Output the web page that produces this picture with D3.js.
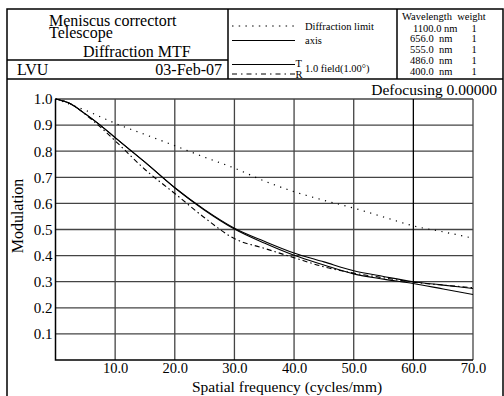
<!DOCTYPE html>
<html><head><meta charset="utf-8">
<script src="https://cdn.jsdelivr.net/npm/d3@7"></script>
<style>body{margin:0;background:#fff}svg{display:block}text{font-family:"Liberation Serif","Times New Roman",serif;fill:#000}</style>
</head><body>
<svg id="c" width="504" height="396"></svg>
<script>
const freq = [0, 2.5, 5, 7.5, 10, 15, 20, 25, 30, 35, 40, 45, 50, 55, 60, 65, 70];
const diffraction = [1.0, 0.979, 0.957, 0.932, 0.907, 0.864, 0.821, 0.777, 0.735, 0.686, 0.645, 0.612, 0.582, 0.548, 0.514, 0.491, 0.467];
const axisMTF = [1.0, 0.982, 0.943, 0.900, 0.852, 0.758, 0.660, 0.576, 0.505, 0.455, 0.410, 0.376, 0.342, 0.320, 0.300, 0.287, 0.274];
const tanMTF  = [1.0, 0.982, 0.943, 0.900, 0.852, 0.758, 0.660, 0.574, 0.502, 0.448, 0.401, 0.364, 0.330, 0.310, 0.293, 0.272, 0.251];
const sagMTF  = [1.0, 0.982, 0.941, 0.893, 0.840, 0.730, 0.638, 0.545, 0.465, 0.428, 0.392, 0.357, 0.333, 0.315, 0.298, 0.287, 0.277];
const xTicks = [10, 20, 30, 40, 50, 60, 70];
const yTicks = [0.1, 0.2, 0.3, 0.4, 0.5, 0.6, 0.7, 0.8, 0.9, 1.0];
const wavelengths = ["1100.0 nm", "656.0  nm", "555.0  nm", "486.0  nm", "400.0  nm"];
const weights = [1, 1, 1, 1, 1];

const svg = d3.select("#c");
const x = d3.scaleLinear().domain([0, 70]).range([55.5, 473]);
const y = d3.scaleLinear().domain([0, 1]).range([360, 99]);

// frame
const frame = svg.append("g").attr("fill", "none").attr("stroke", "#000").attr("stroke-width", 1.5);
frame.append("path").attr("d", "M7,400 V9 H503 V400");
frame.append("line").attr("x1", 7).attr("x2", 503).attr("y1", 79).attr("y2", 79);
frame.append("line").attr("x1", 7).attr("x2", 228).attr("y1", 60).attr("y2", 60);
frame.append("line").attr("x1", 228).attr("x2", 228).attr("y1", 9).attr("y2", 79);
frame.append("line").attr("x1", 397).attr("x2", 397).attr("y1", 9).attr("y2", 79);

// header text
svg.append("text").attr("x", 49).attr("y", 25.5).style("font-size", "16px").text("Meniscus correctort");
svg.append("text").attr("x", 49).attr("y", 37.5).style("font-size", "16px").text("Telescope");
svg.append("text").attr("x", 83).attr("y", 56.5).style("font-size", "16px").text("Diffraction MTF");
svg.append("text").attr("x", 17).attr("y", 74.5).style("font-size", "16px").text("LVU");
svg.append("text").attr("x", 222).attr("y", 74.5).attr("text-anchor", "end").style("font-size", "16px").text("03-Feb-07");

// legend
const lg = svg.append("g").attr("stroke", "#000").attr("fill", "none");
lg.append("line").attr("x1", 232).attr("x2", 295).attr("y1", 26).attr("y2", 26).attr("stroke-dasharray", "1.5,5.2").attr("stroke-width", 1);
lg.append("line").attr("x1", 232).attr("x2", 295).attr("y1", 40.5).attr("y2", 40.5).attr("stroke-width", 1);
lg.append("line").attr("x1", 232).attr("x2", 295).attr("y1", 64.5).attr("y2", 64.5).attr("stroke-width", 1);
lg.append("line").attr("x1", 232).attr("x2", 295).attr("y1", 74).attr("y2", 74).attr("stroke-dasharray", "5,4,1.5,4").attr("stroke-width", 1);
svg.append("text").attr("x", 305).attr("y", 29.5).style("font-size", "10.5px").text("Diffraction limit");
svg.append("text").attr("x", 305).attr("y", 43.5).style("font-size", "10.5px").text("axis");
svg.append("text").attr("x", 295.5).attr("y", 67).style("font-size", "10.5px").text("T");
svg.append("text").attr("x", 295.5).attr("y", 77.5).style("font-size", "10.5px").text("R");
svg.append("text").attr("x", 305).attr("y", 72).style("font-size", "10.5px").text("1.0 field(1.00°)");

svg.append("text").attr("x", 402).attr("y", 19.5).style("font-size", "10.5px").style("white-space", "pre").text("Wavelength  weight");
wavelengths.forEach((w, i) => {
  svg.append("text").attr("x", i === 0 ? 413 : 410).attr("y", 31.5 + i * 10.8).style("font-size", "10.5px").style("white-space", "pre").text(w);
  svg.append("text").attr("x", 474).attr("y", 31.5 + i * 10.8).attr("text-anchor", "middle").style("font-size", "10.5px").text(weights[i]);
});

svg.append("text").attr("x", 497).attr("y", 95).attr("text-anchor", "end").style("font-size", "15.5px").text("Defocusing 0.00000");

// grid
const grid = svg.append("g").attr("stroke", "#444").attr("stroke-width", 1.3);
yTicks.forEach(t => grid.append("line").attr("x1", x(0)).attr("x2", x(70)).attr("y1", y(t)).attr("y2", y(t)));
xTicks.forEach(t => grid.append("line").attr("x1", x(t)).attr("x2", x(t)).attr("y1", y(0)).attr("y2", y(1)).attr("stroke", t === 60 ? "#000" : "#444"));
svg.append("path").attr("d", `M${x(0)},${y(1)} V${y(0)} H${x(70)}`).attr("fill", "none").attr("stroke", "#000").attr("stroke-width", 1.5);

// axes labels
const xAxis = d3.axisBottom(x).tickValues(xTicks).tickFormat(d3.format(".1f")).tickSize(0).tickPadding(3);
const gx = svg.append("g").attr("transform", `translate(0,${y(0)})`).call(xAxis);
gx.select(".domain").remove();
gx.selectAll("text").style("font-size", "14.5px").style("font-family", '"Liberation Serif",serif').attr("fill", "#000");
const yAxis = d3.axisLeft(y).tickValues(yTicks).tickFormat(d3.format(".1f")).tickSize(0).tickPadding(3);
const gy = svg.append("g").attr("transform", `translate(${x(0)},0)`).call(yAxis);
gy.select(".domain").remove();
gy.selectAll("text").style("font-size", "15px").style("font-family", '"Liberation Serif",serif').attr("fill", "#000");

svg.append("text").attr("x", 287).attr("y", 391.5).attr("text-anchor", "middle").style("font-size", "15.5px").text("Spatial frequency (cycles/mm)");
svg.append("text").attr("transform", "translate(23,216) rotate(-90)").attr("text-anchor", "middle").style("font-size", "16px").text("Modulation");

// curves
const line = d3.line().x((d, i) => x(freq[i])).y(d => y(d)).curve(d3.curveMonotoneX);
svg.append("path").attr("d", line(diffraction)).attr("fill", "none").attr("stroke", "#000").attr("stroke-width", 1.2).attr("stroke-dasharray", "1.2,5.5");
svg.append("path").attr("d", line(axisMTF)).attr("fill", "none").attr("stroke", "#000").attr("stroke-width", 1.1);
svg.append("path").attr("d", line(tanMTF)).attr("fill", "none").attr("stroke", "#000").attr("stroke-width", 1.1);
svg.append("path").attr("d", line(sagMTF)).attr("fill", "none").attr("stroke", "#000").attr("stroke-width", 1.1).attr("stroke-dasharray", "5,3,1.5,3");
</script>
</body></html>
